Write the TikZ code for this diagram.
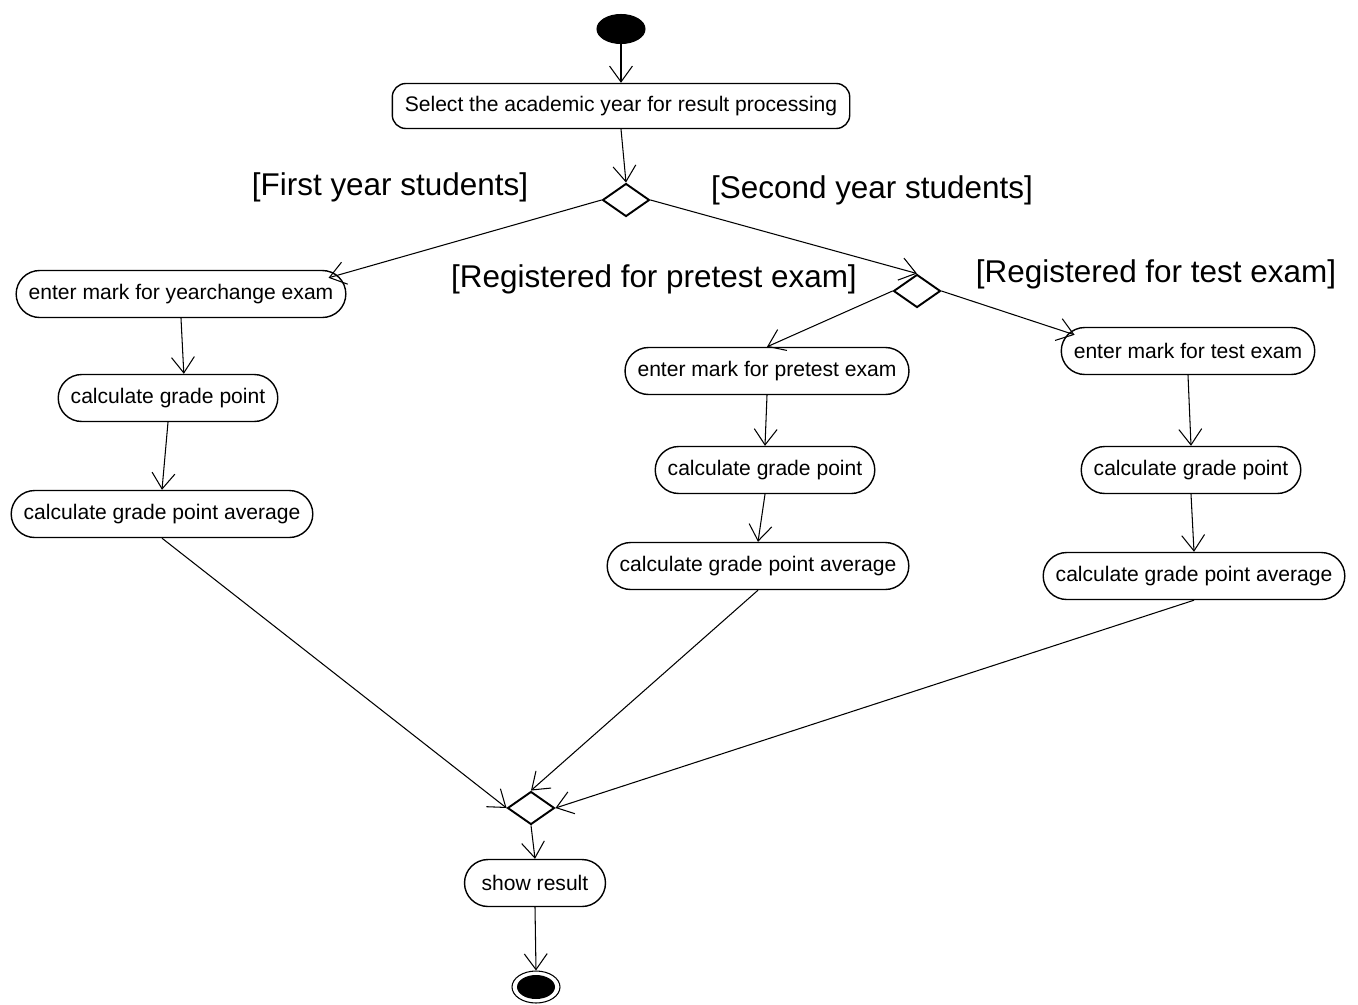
\documentclass[tikz,border=0pt]{standalone}
\usepackage{fontspec}
\setmainfont{Liberation Sans}
\usetikzlibrary{arrows.meta, shapes.geometric}

\begin{document}
\begin{tikzpicture}[
  x=0.02cm, y=-0.02cm, line width=0.6pt,
  >={Straight Barb[length=9pt,width=13pt]},
  act/.style={draw, line width=0.8pt, rounded corners=0.47cm, minimum height=0.94cm, inner xsep=0.25cm, font=\fontsize{12}{14}\selectfont},
  sel/.style={act, rounded corners=0.27cm, minimum height=0.9cm},
  dec/.style={draw, diamond, line width=1.1pt, minimum width=0.94cm, minimum height=0.66cm, inner sep=0pt},
  grd/.style={font=\fontsize{17.9}{21}\selectfont, inner sep=0pt},
]
  \useasboundingbox (0,0) rectangle (1358,1004);

  \node[draw, ellipse, fill=black, minimum width=0.96cm, minimum height=0.58cm, inner sep=0pt] (start) at (621,29) {};
  \node[sel] (choose) at (621,106) {Select the academic year for result processing};
  \node[dec] (d1) at (626,200) {};

  \node[act] (yc) at (181,294) {enter mark for yearchange exam};
  \node[act] (gp1) at (168,398) {calculate grade point};
  \node[act] (gpa1) at (162,514) {calculate grade point average};

  \node[dec] (d2) at (917,291) {};
  \node[act] (pre) at (767,371) {enter mark for pretest exam};
  \node[act] (gp2) at (765,470) {calculate grade point};
  \node[act] (gpa2) at (758,566) {calculate grade point average};

  \node[act] (test) at (1188,351) {enter mark for test exam};
  \node[act] (gp3) at (1191,470) {calculate grade point};
  \node[act] (gpa3) at (1194,576) {calculate grade point average};

  \node[dec] (d3) at (531,808) {};
  \node[act, minimum width=2.82cm] (show) at (535,883) {show result};
  \node[draw, ellipse, fill=white, minimum width=0.96cm, minimum height=0.64cm, inner sep=0pt] (stop) at (536,987) {};
  \node[ellipse, fill=black, minimum width=0.76cm, minimum height=0.48cm, inner sep=0pt] (stopin) at (stop) {};

  \node[grd] (g1) at (390,187) {[First year students]};
  \node[grd] (g2) at (872,190) {[Second year students]};
  \node[grd] (g3) at (654,279) {[Registered for pretest exam]};
  \node[grd] (g4) at (1156,274) {[Registered for test exam]};

  \draw[->] (start) -- (choose);
  \draw[->] (choose.south) -- (d1.north);
  \draw[->] (d1.west) -- ([shift={(-18,8)}]yc.north east);
  \draw[->] (d1.east) -- (d2.north);
  \draw[->] (d2.west) -- (pre.north);
  \draw[->] (d2.east) -- ([shift={(14,8)}]test.north west);
  \draw[->] (yc.south) -- ([xshift=9]gp1.north);
  \draw[->] (gp1.south) -- (gpa1.north);
  \draw[->] (pre.south) -- (gp2.north);
  \draw[->] (gp2.south) -- (gpa2.north);
  \draw[->] (test.south) -- (gp3.north);
  \draw[->] (gp3.south) -- (gpa3.north);
  \draw[->] (gpa1.south) -- (d3.west);
  \draw[->] (gpa2.south) -- (d3.north);
  \draw[->] (gpa3.south) -- (d3.east);
  \draw[->] (d3.south) -- (show.north);
  \draw[->] (show.south) -- (stop.north);
\end{tikzpicture}
\end{document}
